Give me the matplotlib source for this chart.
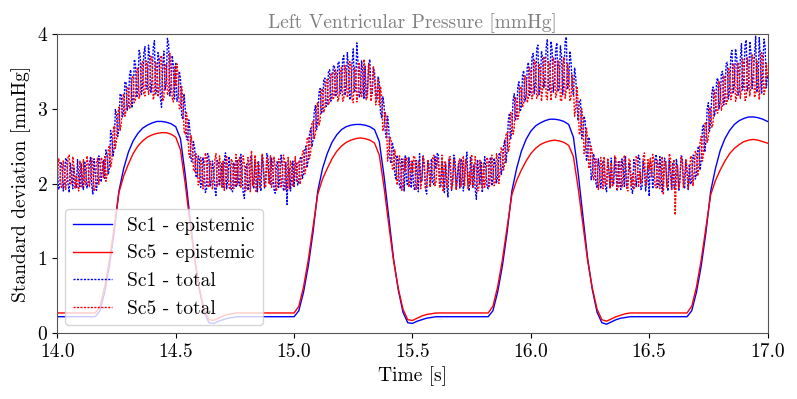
import numpy as np
import matplotlib
matplotlib.use("Agg")
import matplotlib.pyplot as plt

# time grids
t_epi = np.linspace(14.0, 17.0, 151)   # 0.02 s
t_tot = np.linspace(14.0, 17.0, 301)   # 0.01 s
t_mid = t_tot[:-1] + 0.005             # samples between the 0.01 s ones

sc1_epistemic = [
    0.22, 0.22, 0.22, 0.22, 0.22, 0.22, 0.22, 0.22, 0.22,
    0.3, 0.55, 0.9, 1.35, 1.9, 2.2, 2.42, 2.57, 2.67, 2.74, 2.78, 2.81, 2.83, 2.83, 2.82,
    2.8, 2.76, 2.6, 2.12, 1.55, 1.0, 0.58, 0.28, 0.14, 0.13, 0.16, 0.18, 0.2, 0.21,
    0.22, 0.22, 0.22, 0.22, 0.22, 0.22, 0.22, 0.22, 0.22, 0.22, 0.22, 0.22, 0.22,
    0.3, 0.55, 0.9, 1.35, 1.9, 2.2, 2.4, 2.55, 2.65, 2.72, 2.76, 2.78, 2.79, 2.79, 2.78,
    2.76, 2.72, 2.56, 2.1, 1.55, 1.0, 0.58, 0.28, 0.14, 0.13, 0.16, 0.18, 0.2, 0.21,
    0.22, 0.22, 0.22, 0.22, 0.22, 0.22, 0.22, 0.22, 0.22, 0.22, 0.22, 0.22,
    0.3, 0.55, 0.9, 1.35, 1.9, 2.2, 2.43, 2.59, 2.7, 2.77, 2.81, 2.84, 2.86, 2.86, 2.85,
    2.83, 2.79, 2.62, 2.14, 1.57, 1.0, 0.58, 0.28, 0.14, 0.12, 0.15, 0.18, 0.2, 0.21,
    0.22, 0.22, 0.22, 0.22, 0.22, 0.22, 0.22, 0.22, 0.22, 0.22, 0.22, 0.22, 0.22,
    0.3, 0.55, 0.9, 1.35, 1.9, 2.2, 2.44, 2.6, 2.71, 2.79, 2.84, 2.87, 2.89, 2.89, 2.88,
    2.86, 2.83,
]

sc5_epistemic = [
    0.27, 0.27, 0.27, 0.27, 0.27, 0.27, 0.27, 0.27, 0.27,
    0.36, 0.62, 0.98, 1.42, 1.88, 2.1, 2.26, 2.4, 2.5, 2.57, 2.62, 2.65, 2.67, 2.68, 2.68,
    2.66, 2.62, 2.45, 2.0, 1.48, 0.98, 0.6, 0.32, 0.18, 0.17, 0.2, 0.23, 0.25, 0.26,
    0.27, 0.27, 0.27, 0.27, 0.27, 0.27, 0.27, 0.27, 0.27, 0.27, 0.27, 0.27, 0.27,
    0.36, 0.62, 0.98, 1.42, 1.86, 2.06, 2.2, 2.33, 2.43, 2.5, 2.55, 2.58, 2.6, 2.61, 2.6,
    2.58, 2.54, 2.38, 1.95, 1.45, 0.97, 0.6, 0.32, 0.18, 0.17, 0.2, 0.23, 0.25, 0.26,
    0.27, 0.27, 0.27, 0.27, 0.27, 0.27, 0.27, 0.27, 0.27, 0.27, 0.27, 0.27,
    0.36, 0.62, 0.98, 1.42, 1.85, 2.04, 2.18, 2.3, 2.4, 2.47, 2.52, 2.55, 2.57, 2.58, 2.57,
    2.55, 2.51, 2.36, 1.94, 1.45, 0.97, 0.6, 0.32, 0.18, 0.16, 0.19, 0.22, 0.24, 0.26,
    0.27, 0.27, 0.27, 0.27, 0.27, 0.27, 0.27, 0.27, 0.27, 0.27, 0.27, 0.27, 0.27,
    0.36, 0.62, 0.98, 1.42, 1.85, 2.04, 2.18, 2.3, 2.4, 2.47, 2.52, 2.56, 2.58, 2.59, 2.58,
    2.56, 2.54,
]

# total std, samples on the 0.01 s grid
sc1_total = [
    2.18, 1.97, 2.25, 2.03, 2.31, 1.88, 2.12, 2.22, 1.95, 2.09,
    2.27, 1.92, 2.16, 2.01, 2.35, 1.86, 2.14, 2.05, 2.28, 2.19,
    2.07, 2.38, 2.22, 2.61, 2.48, 2.92, 2.76, 3.18, 2.95, 3.36,
    3.05, 3.52, 3.12, 3.61, 3.24, 3.72, 3.3, 3.83, 3.26, 3.69,
    3.38, 3.91, 3.22, 3.66, 3.02, 3.77, 3.35, 3.86, 3.28, 3.58,
    3.62, 3.15, 3.41, 2.86, 3.02, 2.58, 2.71, 2.29, 2.47, 2.08,
    2.33, 1.98, 2.24, 1.91, 2.36, 2.04, 2.19, 1.84, 2.28, 2.11,
    1.95, 2.41, 2.07, 2.23, 1.89, 2.17, 2.32, 1.97, 2.14, 1.8,
    2.26, 2.02, 2.38, 1.93, 2.15, 2.29, 1.9, 2.2, 2.06, 2.34,
    1.99, 2.18, 1.87, 2.3, 2.09, 2.24, 1.94, 1.72, 2.21, 2.13,
    1.96, 2.27, 2.03, 2.36, 2.12, 2.5, 2.33, 2.74, 2.58, 3.04,
    2.85, 3.27, 2.98, 3.41, 3.06, 3.52, 3.14, 3.58, 3.22, 3.63,
    3.25, 3.71, 3.3, 3.55, 3.16, 3.8, 3.27, 3.62, 3.19, 3.49,
    3.57, 3.24, 3.66, 3.18, 3.48, 3.12, 3.35, 2.88, 3.05, 2.6,
    2.74, 2.27, 2.46, 2.05, 2.3, 1.93, 2.21, 2.38, 1.97, 2.16,
    2.29, 1.91, 2.12, 2.4, 2.02, 2.23, 1.86, 2.17, 2.33, 1.99,
    2.19, 2.37, 1.95, 2.1, 2.26, 1.82, 2.2, 2.05, 2.31, 2.13,
    1.94, 2.28, 2.08, 2.42, 1.9, 2.16, 2.25, 1.79, 2.13, 2.3,
    2.04, 2.22, 1.93, 2.35, 2.07, 2.26, 2.09, 2.41, 2.21, 2.58,
    2.45, 2.94, 2.72, 3.2, 2.91, 3.36, 3.02, 3.51, 3.16, 3.62,
    3.27, 3.74, 3.35, 3.85, 3.3, 3.68, 3.42, 3.93, 3.24, 3.79,
    3.36, 3.88, 3.28, 3.71, 3.45, 3.96, 3.34, 3.62, 3.18, 3.41,
    2.84, 3.12, 2.66, 2.83, 2.4, 2.55, 2.12, 2.31, 1.94, 2.22,
    2.05, 2.27, 1.89, 2.18, 2.34, 1.98, 2.12, 2.29, 1.92, 2.2,
    2.37, 2.01, 2.15, 1.87, 2.26, 2.09, 2.33, 1.95, 2.19, 2.06,
    1.83, 2.24, 2.11, 2.39, 1.97, 2.17, 2.02, 2.3, 1.9, 2.14,
    2.28, 1.96, 2.2, 2.07, 2.35, 1.93, 2.16, 2.26, 2.04, 2.37,
    2.12, 2.5, 2.31, 2.79, 2.58, 3.08, 2.84, 3.29, 2.98, 3.41,
    3.1, 3.5, 3.17, 3.62, 3.25, 3.78, 3.33, 3.69, 3.21, 3.87,
    3.4, 3.92, 3.3, 3.75, 3.46, 3.97, 3.29, 3.68, 3.52, 3.83,
    3.45,
]

# total std, samples halfway between (t + 0.005 s)
sc1_total_mid = [
    1.92, 2.29, 1.9, 2.34, 1.99, 2.27, 1.93, 2.01, 2.32, 1.96,
    2.0, 2.3, 1.94, 2.26, 1.97, 2.33, 1.91, 2.37, 2.02, 2.31,
    2.45, 2.12, 2.71, 2.36, 2.99, 2.63, 3.2, 2.89, 3.35, 2.98,
    3.47, 3.01, 3.66, 3.15, 3.78, 3.19, 3.74, 3.28, 3.85, 3.21,
    3.82, 3.2, 3.75, 3.14, 3.58, 3.25, 3.94, 3.17, 3.71, 3.13,
    3.1, 3.5, 2.9, 3.2, 2.6, 2.85, 2.3, 2.56, 2.1, 2.37,
    1.95, 2.35, 1.88, 2.4, 1.96, 2.3, 1.93, 2.31, 1.97, 2.27,
    2.29, 1.93, 2.36, 1.9, 2.28, 1.95, 2.0, 2.39, 1.87, 2.21,
    1.91, 2.33, 1.99, 2.3, 1.89, 1.98, 2.36, 1.94, 2.4, 2.01,
    2.34, 1.92, 2.26, 1.95, 2.38, 1.9, 2.28, 2.12, 1.9, 2.3,
    2.25, 1.98, 2.33, 2.07, 2.44, 2.21, 2.66, 2.49, 2.96, 2.72,
    3.21, 2.93, 3.38, 3.03, 3.49, 3.1, 3.56, 3.16, 3.6, 3.2,
    3.66, 3.18, 3.75, 3.12, 3.61, 3.22, 3.88, 3.15, 3.64, 3.13,
    3.14, 3.6, 3.17, 3.55, 3.2, 3.43, 2.95, 3.16, 2.7, 2.9,
    2.32, 2.55, 2.14, 2.38, 1.96, 2.33, 1.9, 2.02, 2.35, 1.94,
    1.95, 2.31, 1.89, 2.04, 2.37, 1.92, 2.29, 1.96, 2.0, 2.36,
    2.41, 1.97, 2.3, 1.88, 1.99, 2.33, 1.91, 2.38, 1.93, 2.27,
    2.33, 1.9, 2.27, 1.98, 2.35, 1.95, 1.93, 2.32, 1.99, 1.88,
    2.36, 1.96, 2.3, 1.97, 2.34, 2.01, 2.39, 2.12, 2.5, 2.28,
    2.85, 2.6, 3.11, 2.84, 3.3, 2.96, 3.45, 3.1, 3.55, 3.18,
    3.69, 3.2, 3.8, 3.19, 3.77, 3.28, 3.82, 3.25, 3.9, 3.22,
    3.79, 3.23, 3.84, 3.19, 3.9, 3.26, 3.77, 3.3, 3.55, 3.05,
    3.1, 2.6, 2.9, 2.3, 2.62, 2.05, 2.4, 2.0, 2.33, 1.93,
    2.31, 1.95, 2.3, 1.94, 1.97, 2.36, 1.9, 2.01, 2.33, 1.96,
    1.94, 2.28, 1.91, 2.32, 1.96, 2.38, 1.92, 2.3, 1.9, 2.25,
    2.3, 1.93, 2.33, 1.95, 2.36, 1.89, 2.34, 1.98, 2.31, 1.92,
    1.94, 2.33, 1.9, 2.37, 1.98, 2.29, 1.92, 1.99, 2.38, 2.06,
    2.47, 2.18, 2.75, 2.42, 3.0, 2.7, 3.22, 2.9, 3.38, 3.0,
    3.48, 3.05, 3.6, 3.13, 3.72, 3.2, 3.8, 3.18, 3.66, 3.25,
    3.85, 3.24, 3.9, 3.27, 3.71, 3.22, 3.95, 3.2, 3.93, 3.28,
]

sc5_total = [
    2.05, 2.29, 1.94, 2.17, 2.08, 2.38, 1.99, 2.23, 2.11, 1.9,
    2.2, 2.32, 1.98, 2.26, 2.07, 2.19, 1.93, 2.34, 2.1, 2.31,
    2.36, 2.12, 2.51, 2.3, 2.77, 2.58, 3.02, 2.8, 3.2, 2.97,
    3.29, 3.04, 3.44, 3.12, 3.55, 3.2, 3.63, 3.17, 3.58, 3.28,
    3.66, 3.19, 3.52, 3.3, 3.71, 3.15, 3.6, 3.23, 3.5, 3.09,
    3.3, 3.45, 3.0, 3.13, 2.66, 2.83, 2.35, 2.52, 2.16, 2.33,
    2.02, 2.27, 2.13, 2.36, 1.95, 2.21, 2.08, 2.4, 2.0, 2.19,
    2.3, 2.04, 2.17, 1.92, 2.28, 2.12, 1.98, 2.35, 2.15, 2.26,
    2.01, 2.2, 2.44, 2.06, 1.88, 2.25, 2.14, 2.32, 1.96, 2.18,
    2.37, 2.03, 2.22, 1.97, 2.29, 2.1, 2.31, 2.0, 1.93, 2.24,
    2.15, 2.02, 2.3, 2.09, 2.44, 2.2, 2.62, 2.41, 2.83, 2.66,
    3.08, 2.84, 3.27, 3.0, 3.39, 3.1, 3.48, 3.18, 3.44, 3.15,
    3.55, 3.12, 3.47, 3.22, 3.6, 3.08, 3.5, 3.2, 3.41, 3.27,
    3.53, 3.16, 3.44, 3.28, 3.38, 3.22, 3.05, 3.15, 2.76, 2.88,
    2.45, 2.58, 2.18, 2.34, 2.07, 2.25, 2.0, 2.16, 2.31, 2.05,
    2.14, 2.35, 2.01, 2.22, 2.09, 2.3, 1.96, 2.27, 2.1, 2.38,
    2.03, 2.25, 2.12, 1.89, 2.29, 2.08, 2.36, 1.99, 2.18, 2.04,
    2.33, 2.11, 1.97, 2.24, 2.15, 2.39, 2.02, 2.21, 1.91, 2.18,
    2.27, 2.06, 2.3, 2.12, 2.2, 2.01, 2.31, 2.16, 2.45, 2.29,
    2.68, 2.5, 2.91, 2.74, 3.1, 2.93, 3.27, 3.08, 3.4, 3.15,
    3.5, 3.2, 3.6, 3.18, 3.55, 3.27, 3.66, 3.12, 3.58, 3.3,
    3.62, 3.21, 3.54, 3.1, 3.69, 3.25, 3.49, 3.15, 3.3, 3.02,
    3.08, 2.7, 2.86, 2.48, 2.6, 2.28, 2.4, 2.08, 2.27, 2.03,
    2.21, 2.36, 2.0, 2.15, 2.28, 2.07, 2.33, 1.95, 2.19, 2.11,
    2.25, 1.9, 2.3, 2.13, 2.02, 2.34, 2.16, 2.06, 2.41, 1.99,
    2.2, 2.08, 2.32, 1.94, 2.23, 2.12, 1.85, 2.28, 2.07, 2.35,
    2.16, 1.58, 2.24, 2.02, 2.3, 2.11, 2.2, 2.05, 2.34, 2.15,
    2.4, 2.22, 2.63, 2.4, 2.82, 2.6, 2.98, 2.8, 3.15, 2.94,
    3.28, 3.05, 3.4, 3.1, 3.5, 3.2, 3.56, 3.16, 3.45, 3.27,
    3.6, 3.14, 3.52, 3.3, 3.66, 3.2, 3.48, 3.35, 3.7, 3.25,
    3.42,
]

sc5_total_mid = [
    2.33, 1.96, 2.31, 1.92, 2.35, 2.0, 2.36, 1.93, 1.97, 2.3,
    1.94, 2.0, 2.37, 1.95, 2.34, 1.9, 2.28, 1.99, 2.35, 2.07,
    2.03, 2.45, 2.22, 2.69, 2.47, 2.93, 2.71, 3.15, 2.9, 3.27,
    3.0, 3.41, 3.08, 3.52, 3.14, 3.6, 3.2, 3.64, 3.19, 3.7,
    3.12, 3.63, 3.16, 3.68, 3.1, 3.57, 3.18, 3.74, 3.14, 3.56,
    3.6, 3.0, 3.3, 2.7, 2.95, 2.4, 2.64, 2.18, 2.4, 1.98,
    2.35, 1.93, 2.41, 1.97, 2.3, 1.92, 2.32, 1.96, 2.37, 1.95,
    1.91, 2.36, 1.95, 2.33, 1.93, 2.39, 2.29, 1.94, 2.37, 1.9,
    2.35, 1.89, 1.97, 2.38, 2.3, 1.93, 2.4, 1.95, 2.34, 1.99,
    1.95, 2.36, 1.9, 2.33, 1.94, 2.38, 1.92, 2.35, 2.3, 1.96,
    2.36, 2.27, 1.99, 2.42, 2.13, 2.6, 2.33, 2.8, 2.6, 3.05,
    2.78, 3.24, 2.95, 3.37, 3.05, 3.45, 3.12, 3.52, 3.1, 3.5,
    3.1, 3.58, 3.15, 3.63, 3.13, 3.55, 3.09, 3.62, 3.15, 3.66,
    3.12, 3.6, 3.1, 3.57, 3.05, 3.4, 3.3, 2.7, 2.95, 2.3,
    2.62, 2.2, 2.45, 1.98, 2.37, 1.91, 2.33, 2.35, 1.95, 2.3,
    2.37, 1.92, 2.31, 1.93, 2.36, 1.94, 2.32, 1.95, 2.34, 1.97,
    2.34, 1.94, 2.38, 2.3, 1.95, 2.35, 1.92, 2.33, 1.91, 2.28,
    1.96, 2.37, 2.32, 1.93, 1.98, 1.95, 2.36, 1.9, 2.31, 1.94,
    1.95, 2.35, 1.96, 2.38, 1.97, 2.4, 2.0, 2.48, 2.18, 2.65,
    2.42, 2.95, 2.66, 3.15, 2.86, 3.3, 3.02, 3.44, 3.08, 3.55,
    3.13, 3.65, 3.14, 3.59, 3.1, 3.7, 3.16, 3.63, 3.11, 3.68,
    3.15, 3.64, 3.12, 3.58, 3.14, 3.61, 3.1, 3.45, 2.9, 3.3,
    2.65, 3.0, 2.4, 2.75, 2.2, 2.5, 2.05, 2.33, 1.92, 2.35,
    1.93, 1.98, 2.34, 1.94, 1.96, 2.37, 1.92, 2.31, 1.95, 2.38,
    1.94, 2.33, 1.96, 1.92, 2.37, 1.95, 2.01, 2.36, 1.97, 2.32,
    2.34, 2.39, 1.96, 2.31, 1.93, 2.36, 2.3, 1.95, 2.4, 1.92,
    2.32, 2.1, 1.94, 2.36, 1.95, 2.33, 1.93, 2.37, 1.97, 2.43,
    2.1, 2.55, 2.3, 2.8, 2.55, 3.02, 2.75, 3.25, 2.95, 3.37,
    2.98, 3.44, 3.06, 3.55, 3.12, 3.6, 3.1, 3.62, 3.14, 3.66,
    3.11, 3.68, 3.17, 3.72, 3.15, 3.64, 3.12, 3.75, 3.19, 3.61,
]

x_ticks = [14.0, 14.5, 15.0, 15.5, 16.0, 16.5, 17.0]
y_ticks = [0, 1, 2, 3, 4]


def merged(t_a, y_a, t_b, y_b):
    t = np.concatenate([t_a, t_b])
    y = np.concatenate([y_a, y_b])
    order = np.argsort(t)
    return t[order], y[order]


plt.rcParams["font.family"] = "serif"
plt.rcParams["font.serif"] = ["cmr10", "DejaVu Serif"]
plt.rcParams["mathtext.fontset"] = "cm"
plt.rcParams["axes.formatter.use_mathtext"] = True

fig = plt.figure(figsize=(7.97, 3.99), dpi=100)
ax = fig.add_axes([0.072, 0.165, 0.891, 0.75])

t1, y1 = merged(t_tot, sc1_total, t_mid, sc1_total_mid)
t5, y5 = merged(t_tot, sc5_total, t_mid, sc5_total_mid)

ax.plot(t_epi, sc1_epistemic, color="blue", lw=1.0, label="Sc1 - epistemic")
ax.plot(t_epi, sc5_epistemic, color="red", lw=1.0, label="Sc5 - epistemic")
ax.plot(t1, y1, color="blue", lw=1.0, ls=(0, (1.5, 1.0)), label="Sc1 - total")
ax.plot(t5, y5, color="red", lw=1.0, ls=(0, (1.5, 1.0)), label="Sc5 - total")

ax.set_xlim(14.0, 17.0)
ax.set_ylim(0, 4)
ax.set_xticks(x_ticks)
ax.set_xticklabels(["%.1f" % v for v in x_ticks])
ax.set_yticks(y_ticks)
ax.tick_params(labelsize=14)
for s in ax.spines.values():
    s.set_color("#555555")

ax.set_xlabel("Time [s]", fontsize=14)
ax.set_ylabel("Standard deviation [mmHg]", fontsize=14)
ax.set_title("Left Ventricular Pressure [mmHg]", fontsize=14, color="gray", pad=4)
ax.legend(loc="lower left", fontsize=14, borderaxespad=0.4)

fig.savefig("out.png", dpi=100)
